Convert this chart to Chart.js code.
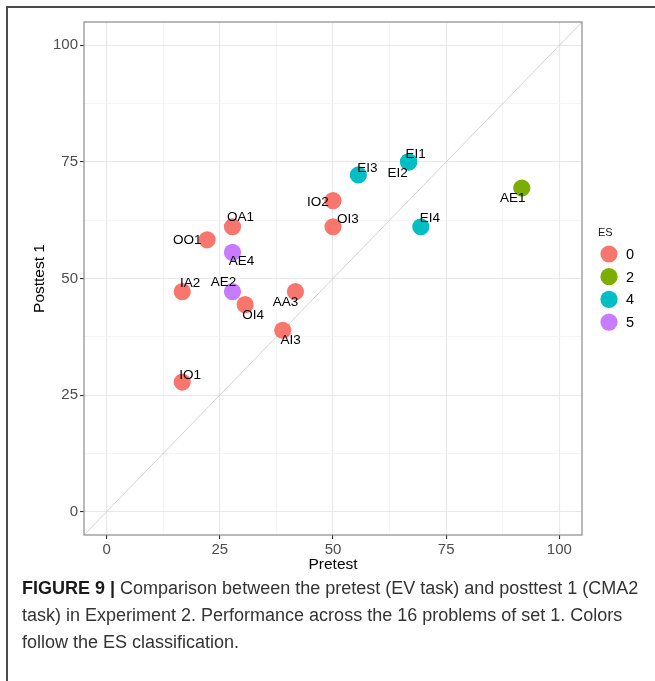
<!DOCTYPE html>
<html>
<head>
<meta charset="utf-8">
<script src="https://cdn.jsdelivr.net/npm/chart.js@4.4.1/dist/chart.umd.min.js"></script>
<style>
  html, body { margin: 0; padding: 0; background: #fff; }
  body { width: 655px; height: 681px; position: relative; overflow: hidden; font-family: "Liberation Sans", Arial, sans-serif; }
  #frame { position: absolute; left: 6px; top: 6px; width: 700px; height: 700px; border-left: 2px solid #4a4a4a; border-top: 2px solid #4a4a4a; }
  #wrap { position: absolute; left: 0; top: 0; width: 655px; height: 580px; }
  #caption { position: absolute; left: 22px; top: 575px; font-size: 18px; line-height: 27px; color: #333; white-space: nowrap; }
  #caption b { color: #1a1a1a; }
</style>
</head>
<body>
<div id="frame"></div>
<div id="wrap"><canvas id="plot"></canvas></div>
<div id="caption"><b>FIGURE 9 |</b> Comparison between the pretest (EV task) and posttest 1 (CMA2<br>task) in Experiment 2. Performance across the 16 problems of set 1. Colors<br>follow the ES classification.</div>
<script>
// one entry per problem of set 1
const problems = ['IO1', 'IA2', 'OO1', 'OA1', 'AE4', 'AE2', 'OI4', 'AA3', 'AI3', 'IO2', 'OI3', 'EI3', 'EI1', 'EI2', 'EI4', 'AE1'];
const pretest = [16.7, 16.7, 22.2, 27.8, 27.8, 27.8, 30.6, 41.7, 38.9, 50, 50, 55.6, 66.7, 66.7, 69.4, 91.7];
const posttest1 = [27.8, 47.2, 58.3, 61.1, 55.6, 47.2, 44.4, 47.2, 38.9, 66.7, 61.1, 72.2, 75, 75, 61.1, 69.4];
const esClass = ['0', '0', '0', '0', '5', '5', '0', '0', '0', '0', '0', '4', '4', '4', '4', '2'];

const esLevels = ['0', '2', '4', '5'];
const esColors = ['#F8766D', '#7CAE00', '#00BFC4', '#C77CFF'];
const axisTicks = [0, 12.5, 25, 37.5, 50, 62.5, 75, 87.5, 100];
const axisRange = [-5, 105];

// pixel nudges for the text labels (repel-style placement)
const labelOffsets = [[8, -7], [8, -8], [-20, 0], [8, -9], [9, 9], [-9, -9], [8, 11], [-10, 11], [8, 10], [-15, 2], [15, -7], [9, -7], [7, -8], [-11, 11], [9, -8], [-9, 10]];

const FONT = '"Liberation Sans", Arial, sans-serif';

const datasets = esLevels.map((lvl, k) => ({
    label: lvl,
    data: problems.map((p, i) => ({ x: pretest[i], y: posttest1[i], name: p, es: esClass[i] })).filter(d => d.es === lvl),
    backgroundColor: esColors[k],
    borderWidth: 0,
    pointRadius: 8.6,
    pointHoverRadius: 8.6,
    order: 1
}));

// identity line y = x
datasets.push({
    type: 'line',
    data: [{ x: axisRange[0], y: axisRange[0] }, { x: axisRange[1], y: axisRange[1] }],
    borderColor: '#c8c8c8',
    borderWidth: 0.8,
    pointRadius: 0,
    order: 5
});

const isMajor = v => v % 25 === 0;

function axis(title, titlePad, fit) {
    return {
        type: 'linear',
        min: axisRange[0],
        max: axisRange[1],
        afterBuildTicks: s => { s.ticks = axisTicks.map(v => ({ value: v })); },
        afterFit: fit,
        border: { display: false },
        grid: {
            color: c => isMajor(c.tick.value) ? '#e8e8e8' : '#f3f3f3',
            lineWidth: c => isMajor(c.tick.value) ? 1.1 : 0.8,
            tickColor: c => isMajor(c.tick.value) ? '#333' : 'rgba(0,0,0,0)',
            tickLength: 4
        },
        ticks: {
            autoSkip: false,
            maxRotation: 0,
            padding: 2,
            color: '#4d4d4d',
            font: { family: FONT, size: 15 },
            callback: v => isMajor(v) ? String(v) : ''
        },
        title: {
            display: true,
            text: title,
            color: '#000',
            font: { family: FONT, size: 15.5 },
            padding: titlePad
        }
    };
}

const extras = {
    id: 'extras',
    afterDatasetsDraw(chart) {
        const { ctx, chartArea: a, scales: { x, y } } = chart;
        ctx.save();
        // point labels
        ctx.font = '13.5px ' + FONT;
        ctx.fillStyle = '#000';
        ctx.textAlign = 'center';
        ctx.textBaseline = 'middle';
        problems.forEach((p, i) => {
            ctx.fillText(p, x.getPixelForValue(pretest[i]) + labelOffsets[i][0], y.getPixelForValue(posttest1[i]) + labelOffsets[i][1]);
        });
        // panel border
        ctx.strokeStyle = '#8a8a8a';
        ctx.lineWidth = 1.2;
        ctx.strokeRect(a.left, a.top, a.right - a.left, a.bottom - a.top);
        // legend
        ctx.textAlign = 'left';
        ctx.font = '11px ' + FONT;
        ctx.fillStyle = '#1a1a1a';
        ctx.fillText('ES', 598, 233);
        ctx.font = '14.5px ' + FONT;
        esLevels.forEach((lvl, k) => {
            const cy = 254 + k * 22.7;
            ctx.fillStyle = esColors[k];
            ctx.beginPath();
            ctx.arc(609, cy, 8.6, 0, Math.PI * 2);
            ctx.fill();
            ctx.fillStyle = '#000';
            ctx.fillText(lvl, 626, cy + 1);
        });
        ctx.restore();
    }
};

new Chart(document.getElementById('plot'), {
    type: 'scatter',
    data: { datasets },
    options: {
        responsive: true,
        maintainAspectRatio: false,
        animation: false,
        events: [],
        layout: { padding: { top: 22, right: 73, left: 0, bottom: 0 } },
        plugins: { legend: { display: false }, tooltip: { enabled: false } },
        scales: {
            x: axis('Pretest', { top: 0, bottom: 6 }, s => { s.height = 45; }),
            y: axis('Posttest 1', { top: 30, bottom: 0 }, s => { s.width = 84; })
        }
    },
    plugins: [extras]
});
</script>
</body>
</html>
